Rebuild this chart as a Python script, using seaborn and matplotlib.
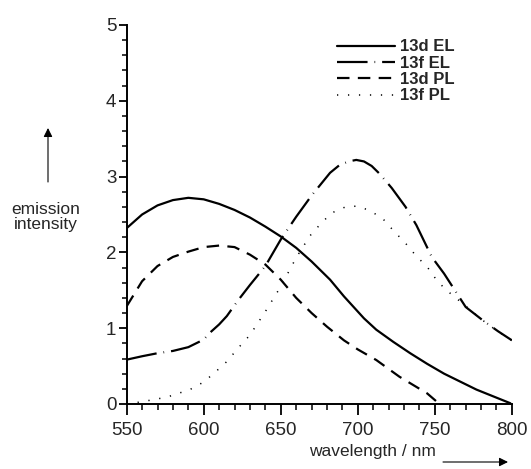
import matplotlib
matplotlib.use("Agg")
import matplotlib.pyplot as plt
import seaborn as sns
import numpy as np
import pandas as pd
from matplotlib.ticker import MultipleLocator

# ---- data ----
x_13d_el = [550, 560, 570, 580, 590, 600, 610, 620, 630, 640, 650, 660, 670, 682, 691, 704, 712, 723, 734, 745, 756, 767, 777, 788, 799]
y_13d_el = [2.32, 2.50, 2.62, 2.69, 2.72, 2.70, 2.64, 2.56, 2.46, 2.34, 2.21, 2.06, 1.88, 1.64, 1.42, 1.13, 0.98, 0.82, 0.67, 0.53, 0.40, 0.29, 0.19, 0.10, 0.01]

x_13f_el = [550, 560, 570, 580, 590, 600, 604, 610, 615, 622, 630, 640, 650, 660, 670, 676, 682, 688, 694, 699, 704, 709, 714, 722, 731, 738, 748, 756, 763, 770, 782, 791, 800]
y_13f_el = [0.585, 0.63, 0.67, 0.70, 0.75, 0.85, 0.94, 1.05, 1.16, 1.36, 1.57, 1.82, 2.17, 2.47, 2.75, 2.90, 3.05, 3.15, 3.20, 3.22, 3.20, 3.14, 3.04, 2.85, 2.60, 2.36, 1.94, 1.72, 1.50, 1.28, 1.09, 0.96, 0.84]

x_13d_pl = [550, 560, 570, 580, 590, 600, 610, 620, 630, 640, 650, 660, 670, 680, 691, 700, 712, 727, 745, 753]
y_13d_pl = [1.29, 1.62, 1.82, 1.94, 2.01, 2.07, 2.09, 2.07, 1.97, 1.84, 1.64, 1.40, 1.20, 1.02, 0.84, 0.72, 0.58, 0.36, 0.14, 0.0]

x_13f_pl = [550, 560, 576, 591, 600, 608, 615, 622, 630, 640, 650, 660, 669, 676, 683, 692, 699, 707, 716, 723, 731, 738, 745, 752, 760, 769, 780, 790, 800]
y_13f_pl = [0.0, 0.03, 0.09, 0.19, 0.29, 0.43, 0.56, 0.73, 0.91, 1.22, 1.55, 1.93, 2.22, 2.38, 2.52, 2.60, 2.61, 2.56, 2.45, 2.29, 2.12, 1.95, 1.81, 1.61, 1.46, 1.31, 1.12, 0.97, 0.84]

labels = ["13d EL", "13f EL", "13d PL", "13f PL"]
x_ticks = [550, 600, 650, 700, 750, 800]
y_ticks = [0, 1, 2, 3, 4, 5]

sns.set_style("white")
plt.rcParams['font.family'] = ['Liberation Sans', 'DejaVu Sans']
plt.rcParams['lines.scale_dashes'] = False

fig = plt.figure(figsize=(5.31, 4.69), dpi=100)
ax = fig.add_axes([0.2386, 0.1386, 0.7254, 0.8081])

series = [
    (x_13d_el, y_13d_el, labels[0], dict(lw=1.6, linestyle='-')),
    (x_13f_el, y_13f_el, labels[1], dict(lw=1.6, linestyle=(0, (22, 5, 0.5, 5)))),
    (x_13d_pl, y_13d_pl, labels[2], dict(lw=1.6, linestyle=(0, (9, 6)))),
    (x_13f_pl, y_13f_pl, labels[3], dict(lw=1.1, linestyle=(0, (0.9, 7)))),
]
for xs, ys, lab, kw in series:
    df = pd.DataFrame({"wavelength": xs, "intensity": ys})
    sns.lineplot(data=df, x="wavelength", y="intensity", ax=ax, color="black",
                 label=lab, **kw)

ax.set_xlim(550, 800)
ax.set_ylim(0, 5)
ax.set_xticks(x_ticks)
ax.set_yticks(y_ticks)
ax.xaxis.set_minor_locator(MultipleLocator(10))
ax.yaxis.set_minor_locator(MultipleLocator(0.2))
ax.tick_params(axis='x', which='major', direction='out', length=8, width=1.3,
               labelsize=13.5, color='black', pad=5, bottom=True)
ax.tick_params(axis='x', which='minor', direction='out', length=4.5, width=1.1,
               color='black', bottom=True)
ax.tick_params(axis='y', which='major', direction='out', length=6, width=1.3,
               labelsize=13.5, color='black', pad=1.5, left=True)
ax.tick_params(axis='y', which='minor', direction='out', length=3.5, width=1.1,
               color='black', left=True)
for s in ['top', 'right']:
    ax.spines[s].set_visible(False)
for s in ['left', 'bottom']:
    ax.spines[s].set_color('black')
    ax.spines[s].set_linewidth(1.4)
ax.set_xlabel("")
ax.set_ylabel("")

leg = ax.legend(loc='upper left', bbox_to_anchor=(0.546, 0.962), frameon=False,
                borderpad=0, borderaxespad=0,
                handlelength=3.5, handletextpad=0.3, labelspacing=0.08,
                prop={'weight': 'bold', 'size': 12})

# axis annotations
fig.text(46/531, 1 - 217/469, "emission\nintensity", ha='center', va='center',
         fontsize=12.5, linespacing=1.05)
fig.add_artist(matplotlib.patches.FancyArrowPatch(
    (48/531, 1 - 182/469), (48/531, 1 - 128/469), transform=fig.transFigure,
    arrowstyle='-|>', mutation_scale=13, color='black', lw=0.8, shrinkA=0, shrinkB=0))
fig.text(372/531, 1 - 451/469, "wavelength / nm", ha='center', va='center',
         fontsize=12.5)
fig.add_artist(matplotlib.patches.FancyArrowPatch(
    (443/531, 1 - 462/469), (508/531, 1 - 462/469), transform=fig.transFigure,
    arrowstyle='-|>', mutation_scale=13, color='black', lw=0.8, shrinkA=0, shrinkB=0))

fig.savefig("out.png", dpi=100)
